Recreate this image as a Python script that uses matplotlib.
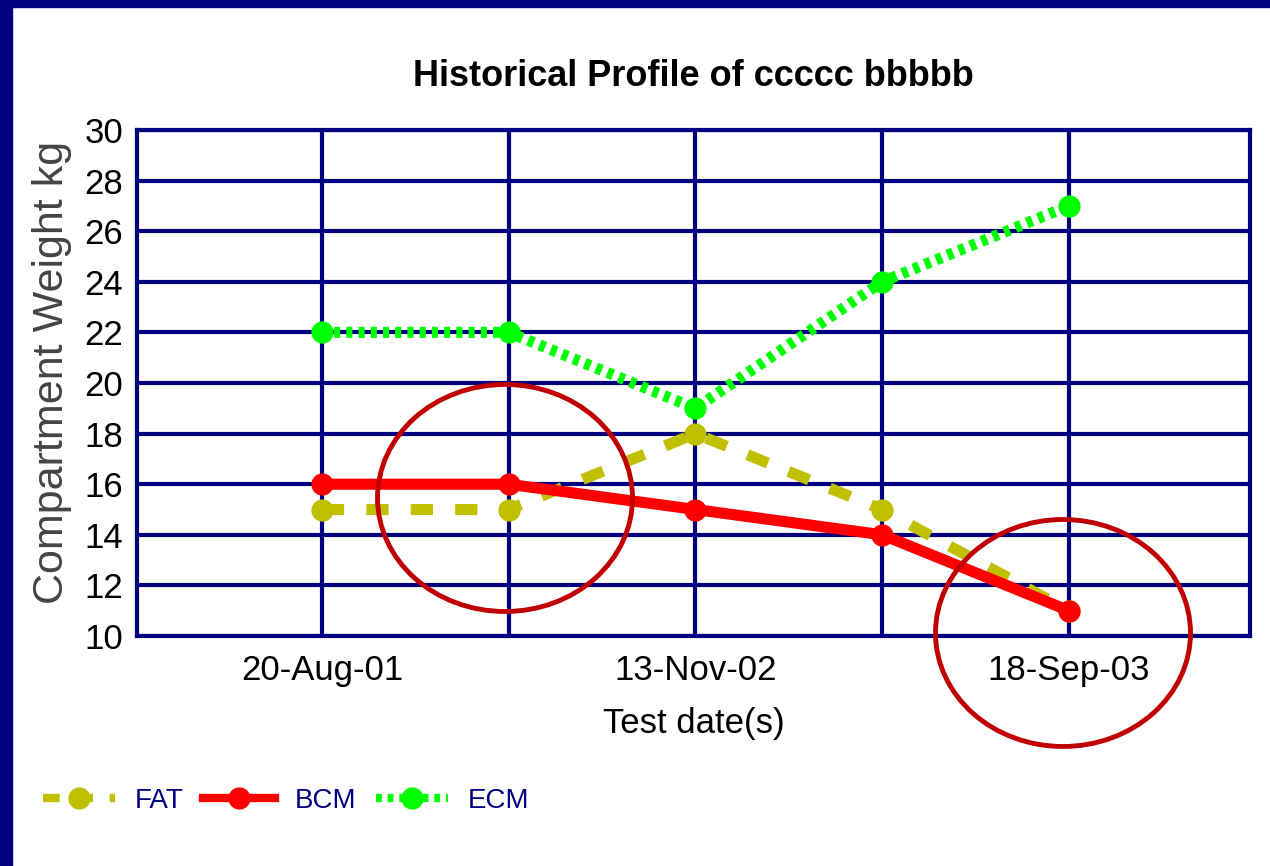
import matplotlib
matplotlib.use("Agg")
import matplotlib.pyplot as plt
from matplotlib.patches import Ellipse, Rectangle
from matplotlib.lines import Line2D

W, H = 1270, 866

dates = ["20-Aug-01", "", "13-Nov-02", "", "18-Sep-03"]
fat = [15, 15, 18, 15, 11]
bcm = [16, 16, 15, 14, 11]
ecm = [22, 22, 19, 24, 27]
yticks = list(range(10, 31, 2))

NAVY = "#000080"
plt.rcParams["font.family"] = ["Liberation Sans", "DejaVu Sans"]

fig = plt.figure(figsize=(W / 100, H / 100), dpi=100)
fig.patch.set_facecolor("white")

# navy frame strips (top and left)
fig.patches.append(Rectangle((0, 1 - 7 / H), 1, 7 / H, transform=fig.transFigure,
                             color=NAVY, zorder=0))
fig.patches.append(Rectangle((0, 0), 12 / W, 1, transform=fig.transFigure,
                             color=NAVY, zorder=0))

ax = fig.add_axes([137 / W, 1 - 636 / H, (1250 - 137) / W, (636 - 130) / H])
x = list(range(len(dates)))

ax.plot(x, fat, color="#C0C000", lw=8, dashes=(2.0, 2.0), marker="o", ms=15,
        label="FAT", zorder=3)
ax.plot(x, bcm, color="#FF0000", lw=8, marker="o", ms=15, label="BCM", zorder=4)
ax.plot(x, ecm, color="#00FF00", lw=8, dashes=(0.55, 0.55), marker="o", ms=15,
        label="ECM", zorder=3)

ax.set_xlim(-0.99, 4.97)
ax.set_ylim(10, 30)
ax.set_yticks(yticks)
ax.set_xticks(x)
ax.set_xticklabels(dates)
ax.grid(True, color=NAVY, lw=3)
ax.set_axisbelow(True)
for s in ax.spines.values():
    s.set_color(NAVY)
    s.set_linewidth(3)
ax.tick_params(length=0, labelsize=25)
ax.tick_params(axis="y", pad=10)
ax.tick_params(axis="x", pad=13)

ax.set_xlabel("Test date(s)", fontsize=25, labelpad=14)
ax.set_ylabel("Compartment Weight kg", fontsize=31, color="#444444")
ax.yaxis.set_label_coords(-0.058, 0.52)
ax.set_title("Historical Profile of ccccc bbbbb", fontsize=26, fontweight="bold",
             pad=32)

# highlight ellipses
for cx, cy in [(505, 498), (1063, 633)]:
    fig.patches.append(Ellipse((cx / W, 1 - cy / H), 255 / W, 227 / H,
                               transform=fig.transFigure, fill=False,
                               edgecolor="#C00000", lw=3.5, zorder=10))

handles = [
    Line2D([], [], color="#C0C000", lw=6, dashes=(2.0, 2.0), marker="o", ms=15),
    Line2D([], [], color="#FF0000", lw=6, marker="o", ms=15),
    Line2D([], [], color="#00FF00", lw=6, dashes=(0.7, 0.7), marker="o", ms=15),
]
leg = fig.legend(handles, ["FAT", "BCM", "ECM"], loc="center left",
                 bbox_to_anchor=(43 / W, 1 - 801 / H), ncol=3, frameon=False,
                 fontsize=20, handlelength=2.6, columnspacing=0.7,
                 handletextpad=0.7, borderpad=0, borderaxespad=0)
for t in leg.get_texts():
    t.set_color(NAVY)

fig.savefig("out.png", dpi=100)
